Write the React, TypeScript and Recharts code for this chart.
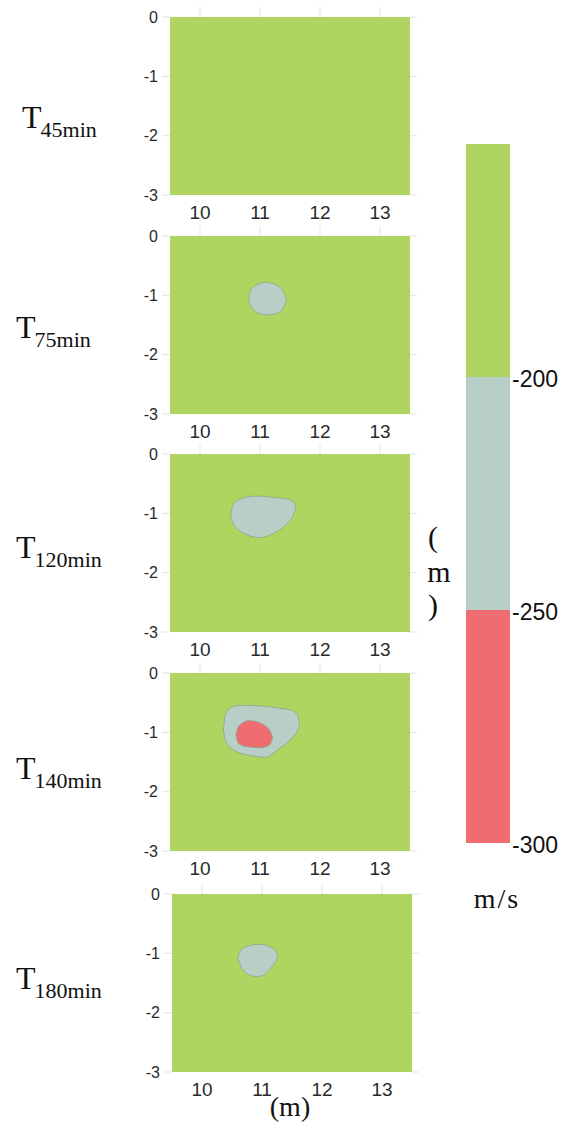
import React from 'react';
import { ComposedChart, Area, XAxis, YAxis, CartesianGrid } from 'recharts';

// ---- axes -------------------------------------------------------------
const X_TICKS = [10, 11, 12, 13];
const Y_TICKS = [0, -1, -2, -3];
const X_DOMAIN: [number, number] = [9.5, 13.5];
const Y_DOMAIN: [number, number] = [-3, 0];

// ---- velocity classes (m/s) ---------------------------------------------
const LEVELS = [-300, -250, -200, -150];
const LEVEL_TICKS = [-300, -250, -200];
const CLASS_KEYS = ['low', 'mid', 'high'];

// ---- survey times -------------------------------------------------------
const TIMES = ['45min', '75min', '120min', '140min', '180min'];

// zone outlines: [x (m), lower depth (m), upper depth (m)]
type Edge = [number, number, number];

const mid45: Edge[] = [];

const mid75: Edge[] = [
  [10.81, -1.07, -1.07],
  [10.84, -1.16, -0.93],
  [10.9, -1.25, -0.85],
  [11.0, -1.31, -0.8],
  [11.1, -1.33, -0.78],
  [11.2, -1.32, -0.8],
  [11.3, -1.3, -0.84],
  [11.39, -1.21, -0.94],
  [11.44, -1.08, -1.08],
];

const mid120: Edge[] = [
  [10.51, -1.03, -1.03],
  [10.54, -1.14, -0.9],
  [10.6, -1.24, -0.8],
  [10.7, -1.32, -0.75],
  [10.8, -1.37, -0.72],
  [10.9, -1.4, -0.71],
  [11.0, -1.41, -0.71],
  [11.1, -1.39, -0.72],
  [11.2, -1.35, -0.73],
  [11.3, -1.3, -0.74],
  [11.4, -1.22, -0.75],
  [11.5, -1.12, -0.77],
  [11.56, -1.02, -0.81],
  [11.6, -0.9, -0.9],
];

const mid140: Edge[] = [
  [10.39, -0.95, -0.95],
  [10.42, -1.12, -0.72],
  [10.47, -1.22, -0.62],
  [10.55, -1.29, -0.565],
  [10.7, -1.36, -0.545],
  [10.9, -1.4, -0.55],
  [11.1, -1.42, -0.565],
  [11.2, -1.37, -0.575],
  [11.3, -1.29, -0.59],
  [11.4, -1.22, -0.605],
  [11.5, -1.13, -0.62],
  [11.58, -1.04, -0.66],
  [11.63, -0.96, -0.73],
  [11.66, -0.87, -0.87],
];

const low140: Edge[] = [
  [10.6, -1.04, -1.04],
  [10.63, -1.17, -0.92],
  [10.7, -1.22, -0.85],
  [10.8, -1.245, -0.8],
  [10.9, -1.255, -0.81],
  [11.0, -1.26, -0.84],
  [11.1, -1.245, -0.9],
  [11.17, -1.2, -0.98],
  [11.21, -1.08, -1.08],
];

const mid180: Edge[] = [
  [10.6, -1.08, -1.08],
  [10.63, -1.18, -0.97],
  [10.7, -1.3, -0.9],
  [10.8, -1.365, -0.87],
  [10.9, -1.39, -0.85],
  [11.0, -1.38, -0.85],
  [11.1, -1.3, -0.88],
  [11.2, -1.18, -0.93],
  [11.24, -1.11, -0.98],
  [11.26, -1.04, -1.04],
];

const PANEL_ZONES: Record<string, Edge[]>[] = [
  { mid: mid45 },
  { mid: mid75 },
  { mid: mid120 },
  { mid: mid140, low: low140 },
  { mid: mid180 },
];

// ---- styling ------------------------------------------------------------
const COLORS: Record<string, string> = {
  high: '#afd560',
  mid: '#b8cfc8',
  low: '#ef6d71',
};
const EDGE = '#8fa38e';
const GRID = '#e3e3e3';
const SANS = '"Liberation Sans", Arial, sans-serif';
const SERIF = '"Liberation Serif", "Times New Roman", serif';

// panel placement on the page
const PANEL_LEFT = [120, 120, 120, 120, 122.3];
const PANEL_PLOT_TOP = [17, 235.5, 453.5, 672.5, 894];
const LABEL_X = [22, 16, 16, 16, 16];
const LABEL_BASE = [128, 338, 558, 779, 989];

function buildRows(zones: Record<string, Edge[]>) {
  const map = new Map<number, Record<string, any>>();
  const row = (x: number) => {
    if (!map.has(x)) map.set(x, { x });
    return map.get(x)!;
  };
  row(X_DOMAIN[0]);
  row(X_DOMAIN[1]);
  Object.entries(zones).forEach(([key, edges]) => {
    edges.forEach(([x, lo, hi]) => {
      row(x)[key] = [lo, hi];
    });
  });
  return Array.from(map.values()).sort((a, b) => a.x - b.x);
}

function Panel({ zones, left, plotTop }: { zones: Record<string, Edge[]>; left: number; plotTop: number }) {
  const rows = buildRows(zones);
  return (
    <div style={{ position: 'absolute', left, top: plotTop - 10 }}>
      <ComposedChart width={300} height={218} data={rows} margin={{ top: 0, right: 0, bottom: 0, left: 0 }}>
        <CartesianGrid horizontal={false} vertical={false} fill={COLORS.high} fillOpacity={1} stroke="none" />
        <XAxis
          dataKey="x"
          type="number"
          domain={X_DOMAIN}
          ticks={X_TICKS}
          allowDataOverflow
          interval={0}
          height={30}
          axisLine={false}
          tickLine={false}
          tickSize={0}
          tickMargin={11}
          fontSize={19}
          fontFamily={SANS}
          tick={{ fontSize: 19, fill: '#2a2a2a', fontFamily: SANS }}
        />
        <XAxis
          xAxisId="top"
          orientation="top"
          dataKey="x"
          type="number"
          domain={X_DOMAIN}
          ticks={X_TICKS}
          allowDataOverflow
          interval={0}
          height={10}
          axisLine={false}
          tickLine={{ stroke: GRID }}
          tickSize={10}
          tickFormatter={() => ''}
        />
        <YAxis
          type="number"
          domain={Y_DOMAIN}
          ticks={Y_TICKS}
          allowDataOverflow
          interval={0}
          width={50}
          axisLine={false}
          tickLine={{ stroke: GRID }}
          tickSize={8}
          tickMargin={4}
          fontSize={16}
          fontFamily={SANS}
          tick={{ fontSize: 16, fill: '#2a2a2a', fontFamily: SANS }}
        />
        <YAxis
          yAxisId="right"
          orientation="right"
          type="number"
          domain={Y_DOMAIN}
          ticks={Y_TICKS}
          allowDataOverflow
          interval={0}
          width={10}
          axisLine={false}
          tickLine={{ stroke: GRID }}
          tickSize={7}
          tickFormatter={() => ''}
        />
        {['mid', 'low'].map((key) => (
          <Area
            key={key}
            dataKey={key}
            type="monotone"
            fill={COLORS[key]}
            fillOpacity={1}
            stroke={EDGE}
            strokeWidth={0.8}
            connectNulls
            dot={false}
            activeDot={false}
            isAnimationActive={false}
          />
        ))}
      </ComposedChart>
    </div>
  );
}

function ColorBar() {
  const rows = [0, 1].map((x) => {
    const r: Record<string, any> = { x };
    CLASS_KEYS.forEach((k, i) => {
      r[k] = [LEVELS[i], LEVELS[i + 1]];
    });
    return r;
  });
  return (
    <div style={{ position: 'absolute', left: 466, top: 134 }}>
      <ComposedChart width={104} height={729} data={rows} margin={{ top: 10, right: 0, bottom: 20, left: 0 }}>
        <XAxis dataKey="x" type="number" domain={[0, 1]} hide />
        <YAxis
          orientation="right"
          type="number"
          domain={[LEVELS[0], LEVELS[LEVELS.length - 1]]}
          ticks={LEVEL_TICKS}
          allowDataOverflow
          interval={0}
          width={60}
          axisLine={false}
          tickLine={false}
          tickSize={0}
          tickMargin={2}
          fontSize={23}
          fontFamily={SANS}
          tick={{ fontSize: 23, fill: '#111', fontFamily: SANS, dy: 2 }}
        />
        {CLASS_KEYS.map((key) => (
          <Area
            key={key}
            dataKey={key}
            type="linear"
            fill={COLORS[key]}
            fillOpacity={1}
            stroke="none"
            dot={false}
            activeDot={false}
            isAnimationActive={false}
          />
        ))}
      </ComposedChart>
    </div>
  );
}

export default function App() {
  return (
    <div style={{ position: 'absolute', left: 0, top: 0, width: 566, height: 1136, background: '#fff' }}>
      {PANEL_ZONES.map((zones, i) => (
        <Panel key={TIMES[i]} zones={zones} left={PANEL_LEFT[i]} plotTop={PANEL_PLOT_TOP[i]} />
      ))}
      <ColorBar />
      <svg
        width={566}
        height={1136}
        style={{ position: 'absolute', left: 0, top: 0, pointerEvents: 'none' }}
      >
        {TIMES.map((t, i) => (
          <text key={t} x={LABEL_X[i]} y={LABEL_BASE[i]} fontFamily={SERIF} fontSize={32} fill="#111">
            T
            <tspan dx={-1} dy={9} fontSize={22}>
              {t}
            </tspan>
          </text>
        ))}
        <text fontFamily={SERIF} fontSize={30} fill="#111" textAnchor="middle">
          <tspan x={433} y={547}>(</tspan>
          <tspan x={439} y={582}>m</tspan>
          <tspan x={433} y={615}>)</tspan>
        </text>
        <text x={497} y={908} fontFamily={SERIF} fontSize={28} letterSpacing={2} fill="#111" textAnchor="middle">
          m/s
        </text>
        <text x={290} y={1116} fontFamily={SERIF} fontSize={28} fill="#111" textAnchor="middle">
          (m)
        </text>
      </svg>
    </div>
  );
}
